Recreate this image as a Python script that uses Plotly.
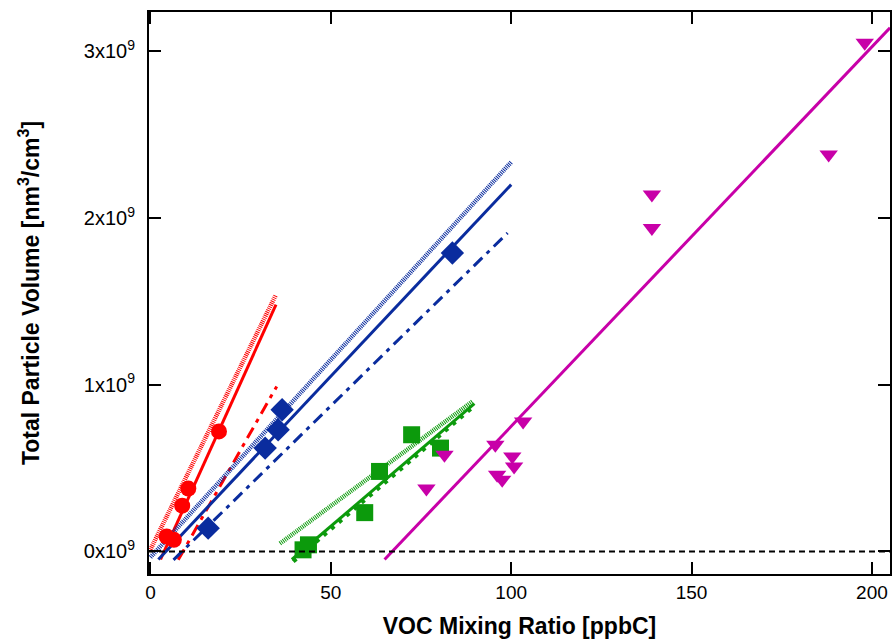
import plotly.graph_objects as go

# ---- data (volume in units of 1e9 nm^3/cm^3) ----
red_x = [4.5, 6.5, 8.8, 10.5, 19.0]
red_y = [0.09, 0.07, 0.275, 0.377, 0.72]
blue_x = [16.0, 31.8, 35.4, 36.5, 83.7]
blue_y = [0.14, 0.62, 0.73, 0.85, 1.79]
green_x = [42.3, 43.8, 59.4, 63.5, 72.4, 80.4]
green_y = [0.01, 0.04, 0.233, 0.48, 0.70, 0.62]
mag_x = [76.5, 81.5, 95.6, 96.1, 97.5, 100.3, 100.8, 103.3, 139.0, 139.0, 188.0, 198.0]
mag_y = [0.377, 0.58, 0.64, 0.46, 0.43, 0.57, 0.51, 0.78, 2.14, 1.94, 2.38, 3.05]

# fit lines: (x0, x1), (y0, y1)
red_solid_x, red_solid_y = [2.8, 34.8], [-0.048, 1.48]
red_dot_x, red_dot_y = [0.0, 34.8], [0.012, 1.54]
red_dd_x, red_dd_y = [7.7, 35.0], [-0.05, 0.99]
blue_solid_x, blue_solid_y = [2.2, 100.0], [-0.048, 2.20]
blue_dot_x, blue_dot_y = [0.0, 100.0], [-0.035, 2.335]
blue_dd_x, blue_dd_y = [6.4, 99.0], [-0.05, 1.91]
green_solid_x, green_solid_y = [39.2, 89.8], [-0.048, 0.886]
green_dash_x, green_dash_y = [39.6, 89.6], [-0.06, 0.87]
green_dot_x, green_dot_y = [35.9, 89.3], [0.048, 0.90]
mag_solid_x, mag_solid_y = [64.9, 205.0], [-0.048, 3.14]

y_ticks = [0, 1, 2, 3]
y_ticktext = ["0x10<sup>9</sup>", "1x10<sup>9</sup>", "2x10<sup>9</sup>", "3x10<sup>9</sup>"]
x_ticks = [0, 50, 100, 150, 200]

RED = "#FF0000"
BLUE = "#0A2C9E"
GREEN = "#0C9A0C"
MAG = "#C800A8"

DOT = "1px,1px"
DASHDOT = "12px,6px,4px,6px"
FONT = "Liberation Sans, Arial, sans-serif"

fig = go.Figure()

def line(x, y, color, dash, width):
    fig.add_trace(go.Scatter(x=x, y=y, mode="lines",
                             line=dict(color=color, dash=dash, width=width),
                             showlegend=False, hoverinfo="skip"))

# lines
line(red_dot_x, red_dot_y, RED, DOT, 4.5)
line(red_solid_x, red_solid_y, RED, "solid", 3)
line(red_dd_x, red_dd_y, RED, DASHDOT, 3)
line(blue_dot_x, blue_dot_y, BLUE, DOT, 4.5)
line(blue_solid_x, blue_solid_y, BLUE, "solid", 3)
line(blue_dd_x, blue_dd_y, BLUE, DASHDOT, 3)
line(green_dot_x, green_dot_y, GREEN, DOT, 4.5)
line(green_solid_x, green_solid_y, GREEN, "solid", 3)
line(green_dash_x, green_dash_y, GREEN, "4px,6px", 4)
line(mag_solid_x, mag_solid_y, MAG, "solid", 3)

# markers
fig.add_trace(go.Scatter(x=red_x, y=red_y, mode="markers",
                         marker=dict(symbol="circle", size=16, color=RED), showlegend=False))
fig.add_trace(go.Scatter(x=blue_x, y=blue_y, mode="markers",
                         marker=dict(symbol="diamond", size=18, color=BLUE), showlegend=False))
fig.add_trace(go.Scatter(x=green_x, y=green_y, mode="markers",
                         marker=dict(symbol="square", size=17, color=GREEN), showlegend=False))
fig.add_trace(go.Scatter(x=mag_x, y=mag_y, mode="markers",
                         marker=dict(symbol="triangle-down", size=16, color=MAG), showlegend=False))

# zero line
fig.add_shape(type="line", xref="paper", yref="y", x0=0, x1=1, y0=0, y1=0,
              line=dict(color="black", width=2, dash="6px,4px"))

axis_common = dict(showline=True, linecolor="black", linewidth=2, mirror="ticks",
                   ticks="inside", ticklen=12, tickwidth=2, tickcolor="black",
                   showgrid=False, zeroline=False)

fig.update_layout(
    width=894, height=642,
    margin=dict(l=149, r=2, t=12, b=68),
    paper_bgcolor="white", plot_bgcolor="white",
    xaxis=dict(range=[-0.4, 205], tickvals=x_ticks,
               tickfont=dict(family=FONT, size=19, color="black"),
               title=dict(text="<b>VOC Mixing Ratio [ppbC]</b>", standoff=16,
                          font=dict(family=FONT, size=23, color="black")),
               **axis_common),
    yaxis=dict(range=[-0.135, 3.235], tickvals=y_ticks, ticktext=y_ticktext,
               tickfont=dict(family=FONT, size=20, color="black"),
               ticklabelstandoff=8,
               title=dict(text="<b>Total Particle Volume [nm<sup>3</sup>/cm<sup>3</sup>]</b>", standoff=38,
                          font=dict(family=FONT, size=23, color="black")),
               **axis_common),
)

fig.write_html("out.html", config={"displayModeBar": False},
               post_script="document.body.style.margin='0';document.body.style.overflow='hidden';")
